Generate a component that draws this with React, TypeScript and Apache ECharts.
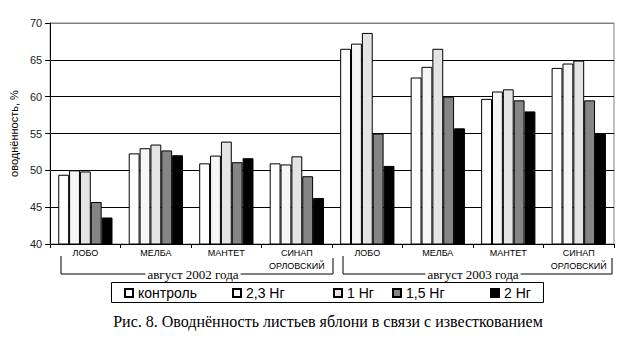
import React, { useEffect, useRef } from "react";
import * as echarts from "echarts";

const categories = [
  "ЛОБО", "МЕЛБА", "МАНТЕТ", "СИНАП\nОРЛОВСКИЙ",
  "ЛОБО", "МЕЛБА", "МАНТЕТ", "СИНАП\nОРЛОВСКИЙ",
];
const seriesNames = ["контроль", "2,3 Нг", "1 Нг", "1,5 Нг", "2 Нг"];
const control = [49.4, 52.3, 50.95, 50.95, 66.5, 62.6, 59.7, 63.9];
const hg23 = [50.0, 53.0, 52.0, 50.8, 67.2, 64.05, 60.7, 64.5];
const hg1 = [49.85, 53.5, 53.9, 51.9, 68.65, 66.5, 61.0, 64.9];
const hg15 = [45.7, 52.7, 51.1, 49.2, 55.0, 60.0, 59.5, 59.5];
const hg2 = [43.6, 52.05, 51.65, 46.25, 50.6, 55.7, 58.0, 55.0];
const seriesColors = ["#ffffff", "#f6f6f6", "#e4e4e4", "#858585", "#000000"];
const yTicks = { min: 40, max: 70, interval: 5 };
const groupLabels = ["август 2002 года", "август 2003 года"];
const yTitle = "оводнённость, %";
const caption = "Рис. 8. Оводнённость листьев яблони в связи с известкованием";

const legendLefts = [124, 232, 333, 392, 490];

export default function App() {
  const ref = useRef<HTMLDivElement>(null);
  useEffect(() => {
    if (!ref.current) return;
    const chart = echarts.init(ref.current, undefined, { renderer: "svg" });
    const data = [control, hg23, hg1, hg15, hg2];
    const serif = "'Liberation Serif', serif";
    const sans = "'Liberation Sans', sans-serif";
    chart.setOption({
      animation: false,
      backgroundColor: "#ffffff",
      grid: {
        left: 49,
        top: 23,
        width: 565,
        height: 221,
        show: true,
        borderColor: "#808080",
        borderWidth: 1,
        backgroundColor: "transparent",
      },
      xAxis: {
        type: "category",
        data: categories,
        axisLine: { show: true, lineStyle: { color: "#000", width: 1 } },
        axisTick: { show: true, length: 4, lineStyle: { color: "#000" } },
        axisLabel: {
          interval: 0,
          margin: 2,
          fontSize: 9,
          fontFamily: sans,
          color: "#000",
          lineHeight: 13,
        },
        splitLine: { show: false },
      },
      yAxis: {
        type: "value",
        min: yTicks.min,
        max: yTicks.max,
        interval: yTicks.interval,
        name: yTitle,
        nameLocation: "middle",
        nameGap: 25,
        nameTextStyle: { fontSize: 11, fontFamily: sans, color: "#000" },
        axisLine: { show: true, lineStyle: { color: "#000", width: 1 } },
        axisTick: { show: true, length: 5, lineStyle: { color: "#000" } },
        axisLabel: { margin: 8, fontSize: 11, fontFamily: sans, color: "#222" },
        splitLine: {
          show: true,
          lineStyle: {
            color: ["#000", "#000", "#000", "#000", "#000", "#000", "#808080"],
            width: 1,
          },
        },
      },
      legend: seriesNames.map((n, i) => ({
        data: [n],
        left: legendLefts[i],
        top: 286,
        icon: "rect",
        itemWidth: 8,
        itemHeight: 8,
        padding: 0,
        textStyle: { fontSize: 14, fontFamily: sans, fontWeight: "normal", color: "#000" },
        selectedMode: false,
      })),
      series: seriesNames.map((n, i) => ({
        name: n,
        type: "bar",
        data: data[i],
        barGap: "0%",
        barCategoryGap: "23%",
        itemStyle: { color: seriesColors[i], borderColor: "#000", borderWidth: 1 },
      })),
      graphic: [
        {
          type: "polyline",
          shape: { points: [[61, 256], [61, 274], [333, 274], [333, 258]] },
          style: { stroke: "#000", lineWidth: 1, fill: "none" },
        },
        {
          type: "polyline",
          shape: { points: [[343, 256], [343, 274], [612, 274], [612, 258]] },
          style: { stroke: "#000", lineWidth: 1, fill: "none" },
        },
        {
          type: "text",
          x: 193,
          y: 274,
          style: {
            text: groupLabels[0],
            fontSize: 13,
            fontFamily: serif,
            fill: "#000",
            align: "center",
            verticalAlign: "middle",
            backgroundColor: "#fff",
            padding: [0, 2],
          },
        },
        {
          type: "text",
          x: 473,
          y: 274,
          style: {
            text: groupLabels[1],
            fontSize: 13,
            fontFamily: serif,
            fill: "#000",
            align: "center",
            verticalAlign: "middle",
            backgroundColor: "#fff",
            padding: [0, 2],
          },
        },
        {
          type: "rect",
          shape: { x: 111.5, y: 282.5, width: 432, height: 20 },
          style: { stroke: "#000", lineWidth: 1, fill: "none" },
        },
        {
          type: "text",
          x: 328,
          y: 321,
          style: {
            text: caption,
            fontSize: 16,
            fontFamily: serif,
            fill: "#000",
            align: "center",
            verticalAlign: "middle",
          },
        },
      ],
    });
    return () => chart.dispose();
  }, []);
  return (
    <div
      ref={ref}
      style={{ position: "fixed", left: 0, top: 0, width: 620, height: 351, background: "#fff" }}
    />
  );
}
